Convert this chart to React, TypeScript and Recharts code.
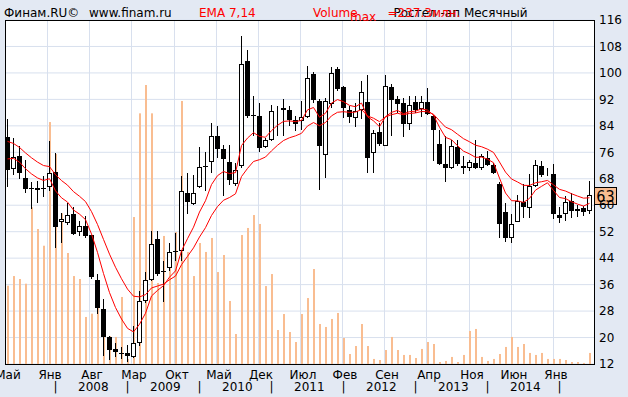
import React from "react";
import {
  ComposedChart,
  Bar,
  Line,
  XAxis,
  YAxis,
  CartesianGrid,
  ReferenceDot,
} from "recharts";

// monthly candles
const OPEN = [
  80.6, 71.0, 75.0, 68.3, 65.3, 65.1, 65.3, 65.6, 70.0, 55.0,
  54.7, 57.5, 52.0, 53.6, 50.9, 37.3, 28.6, 20.3, 16.5, 15.3,
  15.3, 14.2, 18.5, 31.1, 37.4, 49.9, 40.2, 41.0, 46.2, 46.1,
  63.8, 60.4, 65.6, 72.0, 73.1, 80.9, 77.0, 73.1, 66.3, 71.8,
  103.5, 87.3, 87.0, 77.5, 79.8, 88.8, 89.5, 88.9, 85.9, 85.6,
  86.8, 99.7, 91.4, 75.1, 90.5, 101.1, 95.7, 88.9, 86.4, 88.9,
  91.3, 75.8, 82.1, 78.0, 95.7, 92.0, 90.9, 84.6, 91.2, 89.1,
  91.2, 87.1, 78.6, 72.6, 71.3, 77.6, 71.8, 71.3, 72.8, 71.3,
  74.3, 72.3, 66.3, 58.0, 50.0, 55.0, 60.9, 59.2, 65.7, 71.8,
  69.8, 69.3, 56.9, 57.2, 61.2, 58.9, 59.1, 58.2,
];
const HIGH = [
  86.2, 80.3, 78.0, 73.8, 67.0, 67.2, 68.7, 79.5, 75.8, 57.7,
  60.7, 59.5, 55.2, 56.7, 51.0, 39.1, 31.6, 20.5, 18.5, 17.0,
  17.7, 23.5, 34.1, 39.9, 52.2, 52.2, 43.1, 48.7, 51.7, 68.8,
  69.6, 69.0, 77.5, 76.0, 84.9, 84.0, 78.3, 78.1, 72.7, 111.2,
  107.0, 93.1, 90.9, 80.3, 90.4, 89.9, 92.1, 90.1, 86.9, 91.4,
  102.2, 100.4, 92.0, 92.4, 101.7, 101.9, 96.1, 89.9, 90.9, 97.5,
  99.4, 82.8, 84.9, 99.4, 96.6, 93.0, 92.4, 92.9, 93.1, 92.9,
  95.4, 87.3, 82.8, 81.0, 79.8, 79.8, 74.8, 73.8, 79.8, 75.5,
  76.5, 72.8, 67.0, 60.7, 57.2, 63.0, 66.3, 69.3, 73.6, 73.3,
  71.3, 72.6, 59.5, 62.7, 63.8, 60.2, 59.7, 67.3,
];
const LOW = [
  65.6, 69.0, 68.0, 63.8, 58.9, 60.7, 62.6, 64.2, 47.1, 48.5,
  53.9, 50.9, 50.7, 50.2, 37.6, 27.1, 14.5, 13.3, 14.0, 13.5,
  12.5, 13.9, 17.5, 30.4, 37.1, 38.6, 30.8, 40.1, 43.0, 43.1,
  57.2, 60.2, 65.1, 64.2, 69.6, 74.2, 62.7, 66.0, 65.7, 71.3,
  86.4, 80.8, 76.1, 77.3, 79.5, 80.8, 80.8, 84.0, 82.3, 82.8,
  86.4, 91.0, 64.7, 68.3, 89.5, 94.5, 86.5, 84.9, 83.8, 86.0,
  69.8, 69.8, 78.0, 77.8, 81.0, 88.0, 80.6, 82.8, 88.0, 86.8,
  87.4, 73.3, 72.3, 67.1, 71.0, 72.0, 69.5, 70.3, 71.0, 70.8,
  71.8, 69.3, 50.0, 49.0, 48.7, 54.8, 56.2, 56.2, 65.5, 68.5,
  68.8, 55.7, 54.7, 55.1, 56.2, 56.5, 56.7, 57.5,
];
const CLOSE = [
  70.6, 74.6, 69.7, 65.0, 64.8, 64.6, 65.2, 69.6, 53.4, 55.9,
  57.1, 51.3, 53.6, 50.7, 38.3, 29.0, 20.2, 16.3, 15.5, 15.2,
  14.3, 18.5, 31.0, 37.3, 48.2, 39.3, 40.0, 46.0, 45.8, 64.4,
  60.9, 63.8, 71.7, 71.6, 80.9, 77.0, 74.0, 67.7, 70.7, 102.6,
  87.1, 86.9, 77.3, 79.8, 88.6, 89.0, 88.9, 85.9, 84.7, 86.7,
  98.4, 91.7, 77.8, 91.4, 100.1, 95.1, 89.4, 86.8, 88.6, 94.2,
  74.3, 81.8, 78.5, 95.9, 91.9, 90.5, 84.6, 90.2, 88.9, 91.2,
  87.7, 82.6, 72.6, 71.3, 77.8, 72.5, 71.4, 73.1, 71.3, 74.8,
  72.1, 69.6, 54.2, 50.2, 54.4, 61.2, 59.4, 65.7, 72.1, 69.1,
  70.1, 57.4, 56.0, 61.0, 58.2, 58.2, 58.0, 63.0,
];
// volume, млн
const VOLUME = [
  66.6, 74.8, 72.3, 68.3, 133.3, 114.8, 100.6, 205.8, 178.6, 128.2,
  94.4, 74.8, 72.3, 40.0, 42.8, 66.6, 41.7, 23.8, 23.0, 57.0,
  4.3, 125.0, 213.2, 237.3, 213.2, 68.9, 108.9, 85.9, 112.3, 223.7,
  95.3, 74.8, 102.9, 95.3, 107.2, 78.2, 92.7, 53.6, 25.5, 109.7,
  115.7, 126.7, 119.1, 66.3, 76.5, 28.9, 42.5, 27.2, 18.7, 42.5,
  56.1, 80.8, 34.0, 31.5, 38.3, 43.4, 22.1, 8.5, 15.3, 34.0,
  15.3, 4.3, 3.4, 11.9, 23.0, 11.9, 7.7, 7.7, 5.1, 12.8,
  18.7, 17.0, 1.7, 2.6, 6.0, 1.7, 7.7, 28.1, 29.8, 6.0,
  2.6, 4.3, 8.5, 14.5, 23.0, 14.5, 17.0, 9.4, 7.7, 9.4,
  4.3, 4.3, 4.3, 3.4, 1.7, 1.7, 0.9, 9.4,
];

const PRICE_TICKS = [12, 20, 28, 36, 44, 52, 60, 68, 76, 84, 92, 100, 108, 116];
const MONTH_LABELS = ["Май", "Янв", "Авг", "Мар", "Окт", "Май", "Дек", "Июл", "Фев", "Сен", "Апр", "Ноя", "Июн", "Янв"];
const MONTH_POS = [-0.33, 6.67, 13.67, 20.67, 27.83, 34.83, 41.83, 48.83, 55.83, 62.83, 69.83, 77, 84, 91];
const YEAR_LABELS = ["2008", "2009", "2010", "2011", "2012", "2013", "2014"];
const YEAR_POS = [14.3, 26.3, 38.3, 50.3, 62.3, 74.3, 86.3];
const YEAR_BREAKS = [8, 20, 32, 44, 56, 68, 80, 92];

const EMA_FAST = 7;
const EMA_SLOW = 14;
const EMA_FAST_START = 74.0;
const EMA_SLOW_START = 79.3;
const VOLUME_MAX = 237.3;

const X_DOMAIN: [number, number] = [-0.4167, 97.75];
const FONT = "DejaVu Sans";
const PEACH = "#F9BD91";

const ema = (values: number[], period: number, start: number) => {
  const a = 2 / (period + 1);
  let prev = start;
  return values.map((v, i) => {
    prev = i === 0 ? start : a * v + (1 - a) * prev;
    return prev;
  });
};

const emaFast = ema(CLOSE, EMA_FAST, EMA_FAST_START);
const emaSlow = ema(CLOSE, EMA_SLOW, EMA_SLOW_START);

const data = CLOSE.map((close, i) => ({
  i,
  open: OPEN[i],
  high: HIGH[i],
  low: LOW[i],
  close,
  range: [LOW[i], HIGH[i]],
  vol: VOLUME[i],
  emaFast: emaFast[i],
  emaSlow: emaSlow[i],
}));

const yearTicks = [...YEAR_BREAKS, ...YEAR_POS].sort((a, b) => a - b);

const Candle = (props: any) => {
  const { x, y, width, height, payload } = props;
  const { open, close, high, low } = payload;
  const k = height / (high - low || 1);
  const cx = Math.floor(x + width / 2) + 0.5;
  const top = Math.round(y + (high - Math.max(open, close)) * k);
  const bottom = Math.round(y + (high - Math.min(open, close)) * k);
  const h = Math.max(bottom - top, 1);
  const left = cx - 2.5;
  return (
    <g>
      <line x1={cx} x2={cx} y1={Math.round(y)} y2={Math.round(y + height)} stroke="#000" strokeWidth={1} />
      {close < open ? (
        <rect x={left} y={top} width={5} height={h} fill="#000" />
      ) : (
        <rect x={left + 0.5} y={top + 0.5} width={4} height={Math.max(h - 1, 0)} fill="#fff" stroke="#000" strokeWidth={1} />
      )}
    </g>
  );
};

const VolumeBar = (props: any) => {
  const { x, y, width, height } = props;
  if (!height) return null;
  return <rect x={x + 0.5} y={y} width={width} height={height} fill={PEACH} />;
};

const MonthTick = ({ x, y, payload }: any) => {
  const idx = MONTH_POS.indexOf(payload.value);
  return (
    <text x={x + 2.5} y={y + 15} textAnchor="middle" fontSize={12} fontFamily={FONT} fill="#000">
      {MONTH_LABELS[idx]}
    </text>
  );
};

const YearTick = ({ x, y, payload }: any) => {
  const idx = YEAR_POS.indexOf(payload.value);
  return (
    <text x={x} y={y + 11} textAnchor="middle" fontSize={12} fontFamily={FONT} fill="#000">
      {idx >= 0 ? YEAR_LABELS[idx] : "|"}
    </text>
  );
};

const LastBox = (props: any) => {
  const { cx, cy } = props;
  const top = Math.round(cy - 8.5) + 0.5;
  return (
    <g>
      <rect x={cx + 0.5} y={top} width={22} height={17} fill={PEACH} stroke="#000" strokeWidth={1} />
      <text x={cx + 11.5} y={top + 14} textAnchor="middle" fontSize={16} fontFamily="DejaVu Sans Condensed" fill="#000">
        {Math.round(CLOSE[CLOSE.length - 1])}
      </text>
    </g>
  );
};

const App = () => {
  return (
    <div style={{ position: "fixed", left: 0, top: 0, width: 628, height: 397, background: "#E3E9F3" }}>
      <ComposedChart
        width={628}
        height={397}
        data={data}
        margin={{ top: 20, right: 0, bottom: 0, left: 5 }}
      >
        <CartesianGrid
          xAxisId="c"
          yAxisId="price"
          horizontalValues={PRICE_TICKS}
          verticalValues={MONTH_POS}
          stroke="#D8E0EE"
          fill="#fff"
          fillOpacity={1}
        />
        <XAxis
          xAxisId="c"
          dataKey="i"
          type="number"
          domain={X_DOMAIN}
          allowDataOverflow
          ticks={MONTH_POS}
          interval={0}
          height={16}
          axisLine={false}
          tickLine={false}
          tickSize={0}
          tickMargin={0}
          tick={<MonthTick />}
        />
        <XAxis
          xAxisId="v"
          dataKey="i"
          type="number"
          domain={X_DOMAIN}
          allowDataOverflow
          ticks={yearTicks}
          interval={0}
          height={17}
          axisLine={false}
          tickLine={false}
          tickSize={0}
          tickMargin={0}
          tick={<YearTick />}
        />
        <YAxis
          yAxisId="price"
          orientation="right"
          domain={[12, 116]}
          ticks={PRICE_TICKS}
          interval={0}
          width={34}
          axisLine={false}
          tickLine={false}
          tickSize={0}
          tickMargin={5}
          tick={{ fontSize: 12, fill: "#000", fontFamily: FONT }}
        />
        <YAxis yAxisId="vol" hide domain={[0, (VOLUME_MAX * 344) / 279]} />
        <Bar
          xAxisId="v"
          yAxisId="vol"
          dataKey="vol"
          barSize={2}
          shape={<VolumeBar />}
          isAnimationActive={false}
        />
        <Bar
          xAxisId="c"
          yAxisId="price"
          dataKey="range"
          barSize={5}
          shape={<Candle />}
          isAnimationActive={false}
        />
        <Line
          xAxisId="c"
          yAxisId="price"
          dataKey="emaSlow"
          stroke="#ff0000"
          strokeWidth={1}
          dot={false}
          activeDot={false}
          isAnimationActive={false}
        />
        <Line
          xAxisId="c"
          yAxisId="price"
          dataKey="emaFast"
          stroke="#ff0000"
          strokeWidth={1}
          dot={false}
          activeDot={false}
          isAnimationActive={false}
        />
        <ReferenceDot
          xAxisId="c"
          yAxisId="price"
          x={X_DOMAIN[1]}
          y={CLOSE[CLOSE.length - 1]}
          shape={<LastBox />}
          ifOverflow="visible"
        />
      </ComposedChart>
      <svg
        width={628}
        height={397}
        style={{ position: "absolute", left: 0, top: 0, pointerEvents: "none" }}
        fontFamily={FONT}
        fontSize={12}
      >
        <rect x={5.5} y={20.5} width={589} height={344} fill="none" stroke="#000" strokeWidth={1} />
        <text x={4} y={17} fill="#000">Финам.RU©</text>
        <text x={89} y={17} fill="#000">www.finam.ru</text>
        <text x={199} y={17} fill="#ff0000">EMA 7,14</text>
        <text x={393.5} y={17} fill="#000">Ростел -ап Месячный</text>
        <text x={313} y={17} fill="#ff0000">Volume</text>
        <text x={350} y={20.5} fill="#ff0000">max</text>
        <text x={387.5} y={17} fill="#ff0000">=237.3млн.</text>
      </svg>
    </div>
  );
};

export default App;
